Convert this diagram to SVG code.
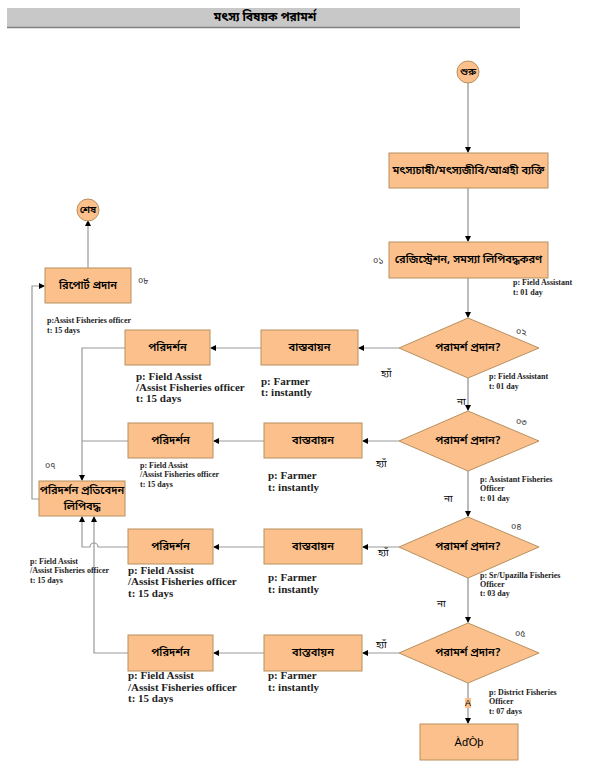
<svg xmlns="http://www.w3.org/2000/svg" width="598" height="784" viewBox="0 0 598 784">
<defs>
<marker id="ah" markerWidth="6" markerHeight="6" refX="5" refY="3" orient="auto" markerUnits="userSpaceOnUse">
<path d="M0,0 L6,3 L0,6 Z" fill="#000"/>
</marker>
<style>
.node{fill:#FBC08C;stroke:#B8905E;stroke-width:1}
.bn{font-family:"Noto Sans Bengali","Noto Sans","Noto Sans CJK SC",sans-serif;font-size:11px;font-weight:600;fill:#000;text-anchor:middle;dominant-baseline:central}
.num{font-family:"Noto Sans Bengali","Noto Sans",sans-serif;font-size:9px;fill:#333}
.yn{font-family:"Noto Sans Bengali","Noto Sans",sans-serif;font-size:10px;fill:#000}
.lbl{font-family:"Liberation Serif",serif;font-weight:bold;fill:#222}
.s8{font-size:8px}
.s11{font-size:11px}
.main{stroke:#BBBBBB;stroke-width:2;fill:none}
.side{stroke:#999999;stroke-width:1.2;fill:none}
</style>
</defs>
<rect width="598" height="784" fill="#fff"/>
<g id="title">
<rect x="7" y="8" width="513" height="19" fill="#C8C8C8"/>
<line x1="7" y1="27.5" x2="520" y2="27.5" stroke="#7F7F7F" stroke-width="1.5"/>
<text x="265" y="17.5" class="bn" style="font-size:12px;font-weight:bold">মৎস্য বিষয়ক পরামর্শ</text>
</g>
<g id="connectors">
<path class="main" d="M468,83 V152" marker-end="url(#ah)"/>
<path class="main" d="M468,188 V241" marker-end="url(#ah)"/>
<path class="main" d="M468,278 V317" marker-end="url(#ah)"/>
<path class="main" d="M468,378 V410" marker-end="url(#ah)"/>
<path class="main" d="M468,471 V516" marker-end="url(#ah)"/>
<path class="main" d="M468,578 V622" marker-end="url(#ah)"/>
<path class="main" d="M468,683 V723" marker-end="url(#ah)"/>
<path class="side" d="M399,348 H359" marker-end="url(#ah)"/>
<path class="side" d="M261,348 H211" marker-end="url(#ah)"/>
<path class="side" d="M125,348 H82 V480" marker-end="url(#ah)"/>
<path class="side" d="M399,441 H363" marker-end="url(#ah)"/>
<path class="side" d="M264,441 H214" marker-end="url(#ah)"/>
<path class="side" d="M128,441 H82"/>
<path class="side" d="M399,547 H363" marker-end="url(#ah)"/>
<path class="side" d="M264,547 H214" marker-end="url(#ah)"/>
<path class="side" d="M128,547 H98 A4,4 0 0 0 90,547 H82 V517" marker-end="url(#ah)"/>
<path class="side" d="M399,653 H363" marker-end="url(#ah)"/>
<path class="side" d="M264,653 H214" marker-end="url(#ah)"/>
<path class="side" d="M128,653 H94 V517" marker-end="url(#ah)"/>
<path class="side" d="M39,499 H32 V286 H44" marker-end="url(#ah)"/>
<path class="side" d="M88,268 V221" marker-end="url(#ah)"/>
</g>
<g id="start">
<circle cx="468" cy="72" r="11" class="node"/>
<text x="468" y="72" class="bn" style="font-size:10px">শুরু</text>
</g>
<g id="n1">
<rect x="389" y="153" width="159" height="35" class="node"/>
<text x="468.5" y="170.5" class="bn">মৎস্যচাষী/মৎস্যজীবি/আগ্রহী ব্যক্তি</text>
</g>
<g id="n2">
<rect x="389" y="242" width="159" height="36" class="node"/>
<text x="468.5" y="260" class="bn">রেজিস্ট্রেশন, সমস্যা লিপিবদ্ধকরণ</text>
<text x="373" y="264" class="num">০১</text>
<text x="513" y="285" class="lbl s8">p: Field Assistant</text>
<text x="513" y="295" class="lbl s8">t: 01 day</text>
</g>
<g id="d1">
<polygon points="468,318 539,348 468,378 399,348" class="node"/>
<text x="468" y="348" class="bn">পরামর্শ প্রদান?</text>
<text x="516" y="335" class="num">০২</text>
<text x="489" y="379" class="lbl s8">p: Field Assistant</text>
<text x="489" y="389" class="lbl s8">t: 01 day</text>
<text x="457" y="405" class="yn">না</text>
</g>
<g id="d2">
<polygon points="468,411 539,441 468,471 399,441" class="node"/>
<text x="468" y="441" class="bn">পরামর্শ প্রদান?</text>
<text x="516" y="425" class="num">০৩</text>
<text x="480" y="482" class="lbl s8">p: Assistant Fisheries</text>
<text x="480" y="491" class="lbl s8">Officer</text>
<text x="480" y="501" class="lbl s8">t: 01 day</text>
<text x="444" y="502" class="yn">না</text>
</g>
<g id="d3">
<polygon points="468,517 539,547 468,578 399,547" class="node"/>
<text x="468" y="547" class="bn">পরামর্শ প্রদান?</text>
<text x="511" y="530" class="num">০৪</text>
<text x="480" y="578" class="lbl s8">p: Sr/Upazilla Fisheries</text>
<text x="480" y="587" class="lbl s8">Officer</text>
<text x="480" y="596" class="lbl s8">t: 03 day</text>
<text x="437" y="607" class="yn">না</text>
</g>
<g id="d4">
<polygon points="468,623 539,653 468,683 399,653" class="node"/>
<text x="468" y="653" class="bn">পরামর্শ প্রদান?</text>
<text x="515" y="637" class="num">০৫</text>
<text x="489" y="695" class="lbl s8">p: District Fisheries</text>
<text x="489" y="704" class="lbl s8">Officer</text>
<text x="489" y="714" class="lbl s8">t: 07 days</text>
<rect x="465" y="698" width="6" height="10" fill="#FBC08C"/>
<text x="468" y="703" class="bn" style="font-size:9px;font-weight:normal;font-family:'Liberation Sans',sans-serif">A</text>
</g>
<g id="end-box">
<rect x="420" y="724" width="98" height="36" class="node"/>
<text x="469" y="742" class="bn" style="font-family:'Liberation Sans',sans-serif;font-weight:normal;font-size:11px">ÀďÒþ</text>
</g>
<g id="r1a">
<rect x="261" y="330" width="97" height="35" class="node"/>
<text x="309.5" y="347.5" class="bn">বাস্তবায়ন</text>
<text x="381" y="377" class="yn">হ্যাঁ</text>
<text x="261" y="385" class="lbl s11">p: Farmer</text>
<text x="261" y="396" class="lbl s11">t: instantly</text>
</g>
<g id="r1b">
<rect x="125" y="330" width="85" height="35" class="node"/>
<text x="167.5" y="347.5" class="bn">পরিদর্শন</text>
<text x="136" y="380" class="lbl s11">p: Field Assist</text>
<text x="136" y="391" class="lbl s11">/Assist Fisheries officer</text>
<text x="136" y="402" class="lbl s11">t: 15 days</text>
</g>
<g id="r2a">
<rect x="264" y="423" width="98" height="35" class="node"/>
<text x="313" y="440.5" class="bn">বাস্তবায়ন</text>
<text x="376" y="467" class="yn">হ্যাঁ</text>
<text x="268" y="479" class="lbl s11">p: Farmer</text>
<text x="268" y="491" class="lbl s11">t: instantly</text>
</g>
<g id="r2b">
<rect x="128" y="423" width="85" height="35" class="node"/>
<text x="170.5" y="440.5" class="bn">পরিদর্শন</text>
<text x="140" y="468" class="lbl s8">p: Field Assist</text>
<text x="140" y="477" class="lbl s8">/Assist Fisheries officer</text>
<text x="140" y="487" class="lbl s8">t: 15 days</text>
</g>
<g id="r3a">
<rect x="264" y="529" width="98" height="35" class="node"/>
<text x="313" y="546.5" class="bn">বাস্তবায়ন</text>
<text x="378" y="556" class="yn">হ্যাঁ</text>
<text x="268" y="581" class="lbl s11">p: Farmer</text>
<text x="268" y="593" class="lbl s11">t: instantly</text>
</g>
<g id="r3b">
<rect x="128" y="529" width="85" height="35" class="node"/>
<text x="170.5" y="546.5" class="bn">পরিদর্শন</text>
<text x="128" y="574" class="lbl s11">p: Field Assist</text>
<text x="128" y="585" class="lbl s11">/Assist Fisheries officer</text>
<text x="128" y="597" class="lbl s11">t: 15 days</text>
<text x="30" y="564" class="lbl s8">p: Field Assist</text>
<text x="30" y="573" class="lbl s8">/Assist Fisheries officer</text>
<text x="30" y="583" class="lbl s8">t: 15 days</text>
</g>
<g id="r4a">
<rect x="264" y="635" width="98" height="36" class="node"/>
<text x="313" y="653" class="bn">বাস্তবায়ন</text>
<text x="376" y="648" class="yn">হ্যাঁ</text>
<text x="268" y="679" class="lbl s11">p: Farmer</text>
<text x="268" y="691" class="lbl s11">t: instantly</text>
</g>
<g id="r4b">
<rect x="128" y="635" width="85" height="36" class="node"/>
<text x="170.5" y="653" class="bn">পরিদর্শন</text>
<text x="128" y="679" class="lbl s11">p: Field Assist</text>
<text x="128" y="691" class="lbl s11">/Assist Fisheries officer</text>
<text x="128" y="702" class="lbl s11">t: 15 days</text>
</g>
<g id="n7">
<rect x="39" y="481" width="86" height="35" class="node"/>
<text x="82" y="491" class="bn">পরিদর্শন প্রতিবেদন</text>
<text x="82" y="507" class="bn">লিপিবদ্ধ</text>
<text x="45" y="469" class="num">০৭</text>
</g>
<g id="n8">
<rect x="45" y="268" width="86" height="35" class="node"/>
<text x="88" y="285.5" class="bn">রিপোর্ট প্রদান</text>
<text x="138" y="284" class="num">০৮</text>
<text x="47" y="323" class="lbl s8">p:Assist Fisheries officer</text>
<text x="47" y="333" class="lbl s8">t: 15 days</text>
</g>
<g id="end">
<circle cx="88" cy="210" r="11" class="node"/>
<text x="88" y="210" class="bn" style="font-size:10px">শেষ</text>
</g>
</svg>
